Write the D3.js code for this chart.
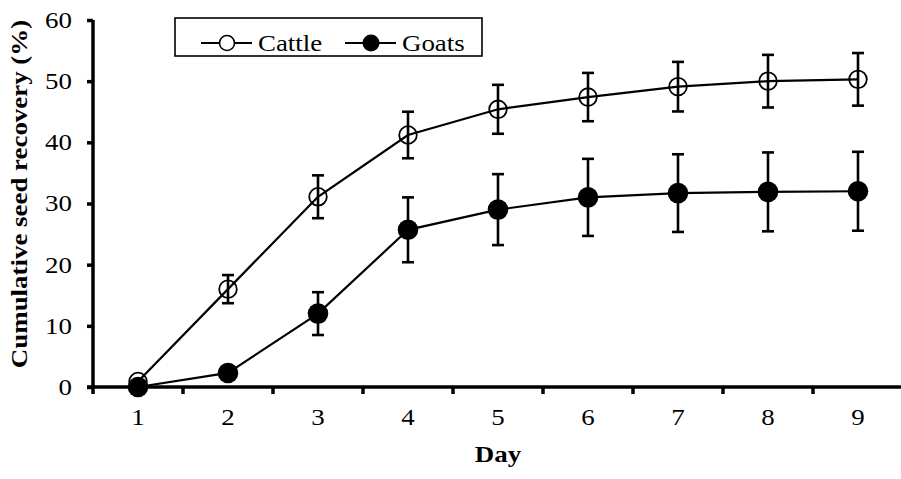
<!DOCTYPE html>
<html>
<head>
<meta charset="utf-8">
<script src="https://cdn.jsdelivr.net/npm/d3@7"></script>
<style>
  html, body { margin: 0; padding: 0; background: #fff; }
  svg { display: block; }
</style>
</head>
<body>
<svg id="chart" width="901" height="479"></svg>
<script>
// Cumulative seed recovery by day, mean ± error
const days = [1, 2, 3, 4, 5, 6, 7, 8, 9];
const cattleMean = [0.9, 16.0, 31.1, 41.2, 45.4, 47.4, 49.1, 50.0, 50.3];
const cattleErr  = [0, 2.3, 3.5, 3.8, 4.0, 3.95, 4.05, 4.3, 4.3];
const goatsMean  = [0, 2.3, 12.0, 25.7, 29.0, 31.0, 31.7, 31.9, 32.0];
const goatsErr   = [0, 0, 3.5, 5.3, 5.8, 6.3, 6.35, 6.45, 6.45];
const yTicks = [0, 10, 20, 30, 40, 50, 60];

const FONT = "'Liberation Serif', 'Times New Roman', Times, serif";
const FS = 23;      // font size
const SX = 1.17;    // text is drawn a little wide along its reading direction
const svg = d3.select("#chart");
const plotLeft = 93, plotRight = 903, plotTop = 20, plotBottom = 387;

const x = d3.scaleBand().domain(days).range([plotLeft, plotRight]);
const y = d3.scaleLinear().domain([0, 60]).range([plotBottom, plotTop]);
const cx = d => x(d) + x.bandwidth() / 2;

// widen a text element around its anchor point
function widen(sel, extra = "") {
  sel.each(function () {
    const t = d3.select(this);
    const tx = +t.attr("x") || 0, ty = +t.attr("y") || 0;
    t.attr("x", 0).attr("y", 0)
      .attr("transform", `translate(${tx},${ty}) ${extra} scale(${SX},1)`);
  });
}

// y axis
const yAxis = svg.append("g").attr("transform", `translate(${plotLeft},0)`)
  .call(d3.axisLeft(y).tickValues(yTicks).tickSize(6).tickPadding(15))
  .attr("font-family", FONT).attr("font-size", FS);
yAxis.select(".domain").attr("stroke-width", 3.5).attr("d", `M0,${plotTop}V${plotBottom}`);
yAxis.selectAll(".tick line").attr("stroke-width", 3.5);
widen(yAxis.selectAll(".tick text"));

// x axis: ticks sit on band boundaries
const xAxis = svg.append("g").attr("transform", `translate(0,${plotBottom})`)
  .call(d3.axisBottom(x).tickSize(0).tickPadding(22))
  .attr("font-family", FONT).attr("font-size", FS);
xAxis.select(".domain").attr("stroke-width", 3.5).attr("d", `M${plotLeft - 6},0H${plotRight}`);
widen(xAxis.selectAll(".tick text"));
const bounds = days.map(d => x(d)).concat([plotRight]);
xAxis.selectAll(".bound").data(bounds).enter().append("line")
  .attr("x1", d => d).attr("x2", d => d).attr("y1", 0).attr("y2", 7)
  .attr("stroke", "#000").attr("stroke-width", 3.5);

// axis titles
svg.append("text").attr("x", cx(5)).attr("y", 462).attr("text-anchor", "middle")
  .attr("font-family", FONT).attr("font-size", FS).attr("font-weight", "bold").text("Day")
  .call(widen);
svg.append("text").attr("x", 27).attr("y", 194)
  .attr("text-anchor", "middle")
  .attr("font-family", FONT).attr("font-size", FS).attr("font-weight", "bold")
  .text("Cumulative seed recovery (%)")
  .call(s => widen(s, "rotate(-90)"));

const line = d3.line().x(d => cx(d.day)).y(d => y(d.v));

function series(means, errs, filled) {
  const data = days.map((d, i) => ({ day: d, v: means[i], e: errs[i] }));
  const g = svg.append("g");
  g.append("path").datum(data).attr("d", line)
    .attr("fill", "none").attr("stroke", "#000").attr("stroke-width", 2.2);
  const eb = g.selectAll(".eb").data(data.filter(d => d.e > 0)).enter().append("g");
  eb.append("line").attr("x1", d => cx(d.day)).attr("x2", d => cx(d.day))
    .attr("y1", d => y(d.v + d.e)).attr("y2", d => y(d.v - d.e))
    .attr("stroke", "#000").attr("stroke-width", 2.6);
  [1, -1].forEach(s => {
    eb.append("line").attr("x1", d => cx(d.day) - 6).attr("x2", d => cx(d.day) + 6)
      .attr("y1", d => y(d.v + s * d.e)).attr("y2", d => y(d.v + s * d.e))
      .attr("stroke", "#000").attr("stroke-width", 2.6);
  });
  g.selectAll(".pt").data(data).enter().append("circle")
    .attr("cx", d => cx(d.day)).attr("cy", d => y(d.v))
    .attr("r", filled ? 10.3 : 8.8)
    .attr("fill", filled ? "#000" : "none")
    .attr("stroke", "#000").attr("stroke-width", filled ? 0 : 1.8);
}
series(cattleMean, cattleErr, false);
series(goatsMean, goatsErr, true);

// legend
const lg = svg.append("g");
lg.append("rect").attr("x", 175).attr("y", 18).attr("width", 307).attr("height", 38)
  .attr("fill", "#fff").attr("stroke", "#000").attr("stroke-width", 1.6);
const items = [
  { name: "Cattle", filled: false, x0: 201 },
  { name: "Goats", filled: true, x0: 345 }
];
items.forEach(it => {
  const cy = 43;
  lg.append("line").attr("x1", it.x0).attr("x2", it.x0 + 51).attr("y1", cy).attr("y2", cy)
    .attr("stroke", "#000").attr("stroke-width", 2);
  lg.append("circle").attr("cx", it.x0 + 26).attr("cy", cy)
    .attr("r", it.filled ? 8.5 : 7.5)
    .attr("fill", it.filled ? "#000" : "#fff")
    .attr("stroke", "#000").attr("stroke-width", it.filled ? 0 : 1.6);
  lg.append("text").attr("x", it.x0 + 57).attr("y", cy + 8)
    .attr("font-family", FONT).attr("font-size", FS).text(it.name)
    .call(widen);
});
</script>
</body>
</html>
